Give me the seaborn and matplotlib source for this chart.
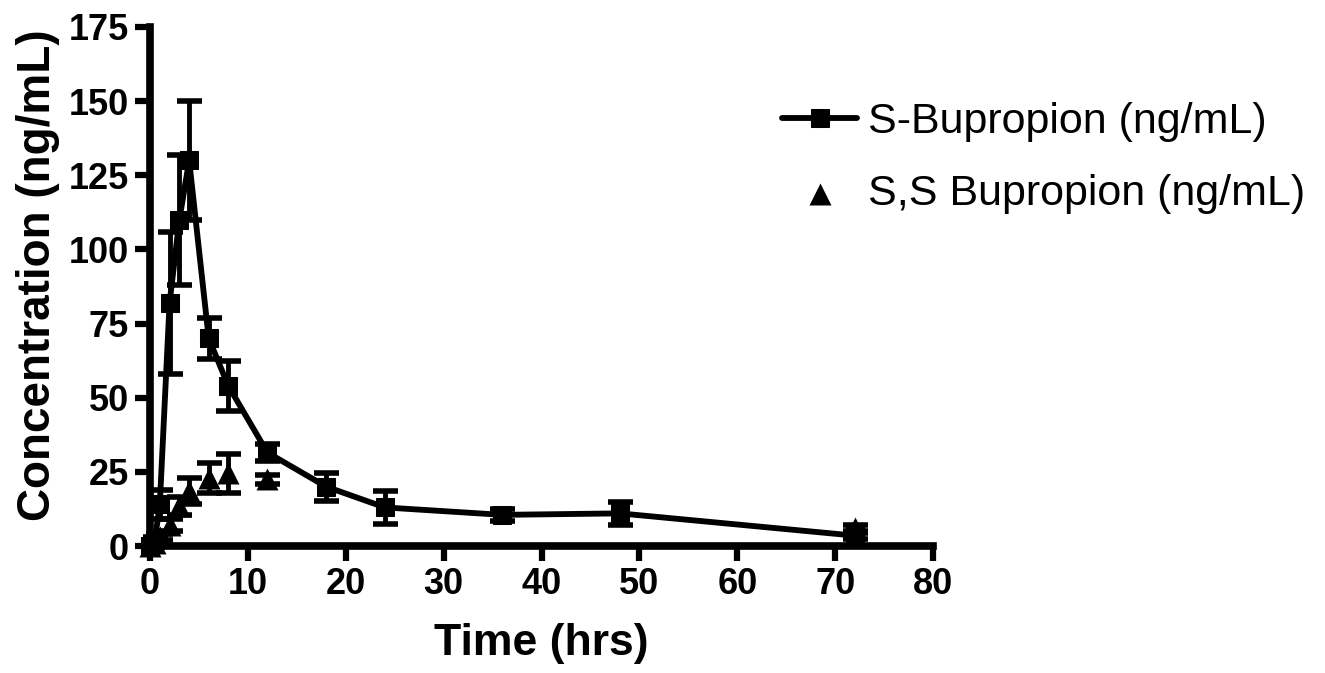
"""Plasma concentration-time profile of S-bupropion and S,S-bupropion."""

import matplotlib

matplotlib.use("Agg")
import matplotlib.pyplot as plt
import seaborn as sns

# S-Bupropion (mean, SD)
TIME_S = [0, 0.5, 1, 2, 3, 4, 6, 8, 12, 18, 24, 36, 48, 72]
S_BUP = [0, 2, 14, 82, 110, 130, 70, 54, 31.5, 20, 13, 10.5, 11, 3.5]
S_BUP_SD = [0, 1, 5, 24, 22, 20, 7, 8.5, 3, 4.7, 5.5, 2, 4, 1]

# S,S Bupropion (mean, SD)
TIME_SS = [0, 0.5, 1, 2, 3, 4, 6, 8, 12, 72]
SS_BUP = [0, 1, 3, 7, 13.5, 18.5, 23, 24.5, 22.5, 6]
SS_BUP_SD = [0, 0.5, 1, 2, 3, 4.5, 5, 6.5, 1.5, 1]

X_TICKS = list(range(0, 81, 10))
Y_TICKS = list(range(0, 176, 25))


def main() -> None:
    sns.set_style("ticks", {"axes.edgecolor": "black", "text.color": "black",
                            "xtick.color": "black", "ytick.color": "black",
                            "axes.labelcolor": "black"})
    plt.rcParams["font.family"] = ["Liberation Sans", "DejaVu Sans"]

    W, H = 1325, 673
    fig = plt.figure(figsize=(W / 100, H / 100), dpi=100)
    ax = fig.add_axes([150 / W, (H - 546) / H, (933 - 150) / W, (546 - 27) / H])

    err_kw = dict(fmt="none", ecolor="black", elinewidth=3.5, capsize=9,
                  capthick=4, zorder=2, clip_on=False)
    ax.errorbar(TIME_S, S_BUP, yerr=S_BUP_SD, **err_kw)
    ax.errorbar(TIME_SS, SS_BUP, yerr=SS_BUP_SD, **err_kw)

    sns.lineplot(x=TIME_S, y=S_BUP, marker="s", markersize=13, linewidth=4.2,
                 color="black", markeredgecolor="black", label="S-Bupropion (ng/mL)",
                 ax=ax, zorder=3, clip_on=False)
    sns.scatterplot(x=TIME_SS, y=SS_BUP, marker="^", s=250, color="black",
                    edgecolor="black", linewidth=0, label="S,S Bupropion (ng/mL)",
                    ax=ax, zorder=3, clip_on=False)

    ax.set_xlim(0, 80)
    ax.set_ylim(0, 175)
    ax.set_xticks(X_TICKS)
    ax.set_yticks(Y_TICKS)
    ax.tick_params(width=4.5, length=11, labelsize=26, direction="out", pad=4,
                   colors="black")
    for lab in ax.get_xticklabels() + ax.get_yticklabels():
        lab.set_fontweight("bold")
    for side in ("top", "right"):
        ax.spines[side].set_visible(False)
    for side in ("left", "bottom"):
        ax.spines[side].set_linewidth(5.5)
        ax.spines[side].set_color("black")

    ax.set_xlabel("Time (hrs)", fontsize=32, fontweight="bold", labelpad=15)
    ax.set_ylabel("Concentration (ng/mL)", fontsize=33, fontweight="bold")
    ax.yaxis.set_label_coords(-0.115, 0.522)

    ax.legend(loc="upper left", bbox_to_anchor=(782 / W, 1 - 102 / H),
              bbox_transform=fig.transFigure, frameon=False, fontsize=31,
              handlelength=1.75, handletextpad=0.25, labelspacing=0.75,
              borderpad=0, borderaxespad=0)

    fig.savefig("out.png", dpi=100)
    plt.close(fig)


if __name__ == "__main__":
    main()
